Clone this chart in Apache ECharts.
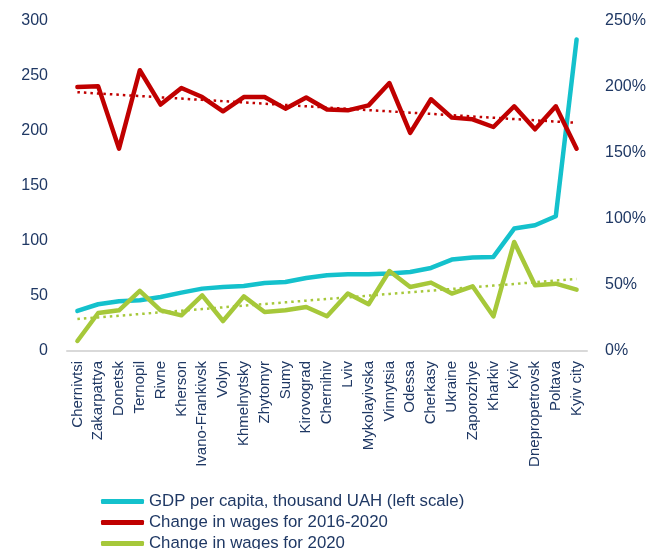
<!DOCTYPE html>
<html>
<head>
<meta charset="utf-8">
<script src="https://cdn.jsdelivr.net/npm/echarts@6/dist/echarts.min.js"></script>
<style>
  html, body { margin: 0; padding: 0; background: #ffffff; }
  #chart { width: 656px; height: 549px; }
</style>
</head>
<body>
<div id="chart"></div>
<script>
// Regions, ordered by GDP per capita
const regions = [
  'Chernivtsi', 'Zakarpattya', 'Donetsk', 'Ternopil', 'Rivne', 'Kherson',
  'Ivano-Frankivsk', 'Volyn', 'Khmelnytsky', 'Zhytomyr', 'Sumy', 'Kirovograd',
  'Chernihiv', 'Lviv', 'Mykolayivska', 'Vinnytsia', 'Odessa', 'Cherkasy',
  'Ukraine', 'Zaporozhye', 'Kharkiv', 'Kyiv', 'Dnepropetrovsk', 'Poltava', 'Kyiv city'
];

// GDP per capita, thousand UAH (left scale)
const gdpPerCapita = [
  36.4, 42.5, 45.2, 46.1, 49.1, 53.1, 56.7, 58.2, 59.1, 61.8, 62.7, 66.4,
  68.8, 69.7, 69.7, 70.4, 71.8, 75.5, 83.1, 84.9, 85.5, 111.3, 114.3, 122.5, 283.1
];

// Change in wages, % (right scale)
const wageChange2016_2020 = [
  200.0, 200.5, 153.3, 212.7, 186.7, 199.2, 192.4, 181.6, 192.4, 192.4, 183.6, 192.0,
  183.0, 182.3, 186.1, 203.0, 165.2, 190.7, 176.8, 175.5, 169.7, 185.4, 168.0, 185.4, 153.3
];
const wageChange2020 = [
  7.6, 28.8, 30.8, 45.5, 30.8, 27.0, 42.2, 22.7, 41.4, 29.5, 30.8, 33.3,
  26.3, 43.5, 35.4, 60.6, 48.5, 51.8, 43.5, 49.0, 26.3, 82.6, 49.8, 51.0, 46.5
];

// Left and right axis ticks
const leftTicks = { min: 0, max: 300, interval: 50 };
const rightTicks = { min: 0, max: 250, interval: 50 };

const seriesNames = [
  'GDP per capita, thousand UAH (left scale)',
  'Change in wages for 2016-2020',
  'Change in wages for 2020'
];

const colors = { gdp: '#14c1cc', wages1620: '#c00000', wages20: '#a6c83a' };
const textColor = '#1f3864';

// Least-squares linear trend over the category index
function linearTrend(values) {
  const n = values.length;
  let sx = 0, sy = 0, sxy = 0, sxx = 0;
  values.forEach((v, i) => { sx += i; sy += v; sxy += i * v; sxx += i * i; });
  const slope = (n * sxy - sx * sy) / (n * sxx - sx * sx);
  const intercept = (sy - slope * sx) / n;
  return values.map((_, i) => +(intercept + slope * i).toFixed(3));
}

const fontFamily = '"Liberation Sans", Arial, sans-serif';

const solidLine = (color) => ({ color: color, width: 4.5, cap: 'round', join: 'round' });
const dottedLine = (color) => ({ color: color, width: 2.5, type: [2.5, 4], cap: 'butt' });

const chart = echarts.init(document.getElementById('chart'), null, { renderer: 'canvas' });

chart.setOption({
  animation: false,
  backgroundColor: '#ffffff',
  textStyle: { fontFamily: fontFamily },
  grid: { left: 67, right: 69, top: 21, bottom: 198, containLabel: false },
  legend: {
    data: seriesNames,
    orient: 'vertical',
    left: 101,
    top: 493,
    width: 500,
    height: 90,
    padding: 0,
    icon: 'roundRect',
    itemWidth: 43,
    itemHeight: 5,
    itemGap: 4,
    textStyle: { color: textColor, fontSize: 16.8, lineHeight: 17, fontFamily: fontFamily }
  },
  xAxis: {
    type: 'category',
    data: regions,
    boundaryGap: true,
    axisLine: { show: true, lineStyle: { color: '#d9d9d9', width: 2 } },
    axisTick: { show: false },
    axisLabel: {
      interval: 0,
      rotate: 90,
      margin: 10,
      color: textColor,
      fontSize: 15,
      fontFamily: fontFamily
    },
    splitLine: { show: false }
  },
  yAxis: [
    {
      type: 'value',
      min: leftTicks.min,
      max: leftTicks.max,
      interval: leftTicks.interval,
      axisLine: { show: false },
      axisTick: { show: false },
      splitLine: { show: false },
      axisLabel: { color: textColor, fontSize: 16, margin: 19, fontFamily: fontFamily }
    },
    {
      type: 'value',
      position: 'right',
      min: rightTicks.min,
      max: rightTicks.max,
      interval: rightTicks.interval,
      axisLine: { show: false },
      axisTick: { show: false },
      splitLine: { show: false },
      axisLabel: { color: textColor, fontSize: 16, margin: 18, formatter: '{value}%', fontFamily: fontFamily }
    }
  ],
  series: [
    {
      name: 'trend 2016-2020',
      type: 'line',
      yAxisIndex: 1,
      data: linearTrend(wageChange2016_2020),
      showSymbol: false,
      silent: true,
      lineStyle: dottedLine(colors.wages1620),
      z: 1
    },
    {
      name: 'trend 2020',
      type: 'line',
      yAxisIndex: 1,
      data: linearTrend(wageChange2020),
      showSymbol: false,
      silent: true,
      lineStyle: dottedLine(colors.wages20),
      z: 1
    },
    {
      name: seriesNames[0],
      type: 'line',
      yAxisIndex: 0,
      data: gdpPerCapita,
      showSymbol: false,
      color: colors.gdp,
      lineStyle: solidLine(colors.gdp),
      z: 2
    },
    {
      name: seriesNames[1],
      type: 'line',
      yAxisIndex: 1,
      data: wageChange2016_2020,
      showSymbol: false,
      color: colors.wages1620,
      lineStyle: solidLine(colors.wages1620),
      z: 3
    },
    {
      name: seriesNames[2],
      type: 'line',
      yAxisIndex: 1,
      data: wageChange2020,
      showSymbol: false,
      color: colors.wages20,
      lineStyle: solidLine(colors.wages20),
      z: 4
    }
  ]
});
</script>
</body>
</html>
